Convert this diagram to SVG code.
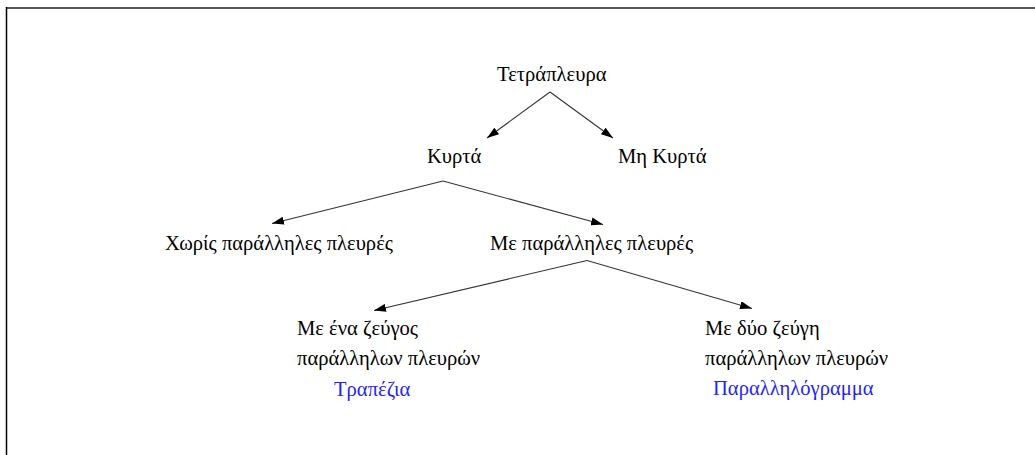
<svg xmlns="http://www.w3.org/2000/svg" width="1035" height="455" viewBox="0 0 1035 455">
  <style>
    .t { font-family: "Liberation Serif", "Times New Roman", serif; font-size: 20.6px; fill: #000; }
    .b { fill: #1f1fff; }
    .c { stroke: #333; stroke-width: 1.1; fill: none; marker-end: url(#ah); }
  </style>
  <defs>
    <marker id="ah" viewBox="0 0 12 8" refX="12" refY="4" markerWidth="12" markerHeight="8" markerUnits="userSpaceOnUse" orient="auto">
      <path d="M0,0 L12,4 L0,8 Z" fill="#000"/>
    </marker>
  </defs>
  <rect width="1035" height="455" fill="#fff"/>
  <g id="frame">
    <line x1="6" y1="8" x2="1035" y2="8" stroke="#555" stroke-width="2"/>
    <line x1="6.5" y1="7" x2="6.5" y2="455" stroke="#000" stroke-width="1.5"/>
  </g>
  <g id="connectors">
    <line class="c" x1="550" y1="92" x2="487" y2="138"/>
    <line class="c" x1="550" y1="92" x2="613" y2="138"/>
    <line class="c" x1="443" y1="181" x2="272" y2="223.5"/>
    <line class="c" x1="443" y1="181" x2="603" y2="224.5"/>
    <line class="c" x1="587" y1="260.5" x2="374" y2="310.5"/>
    <line class="c" x1="587" y1="260.5" x2="752" y2="308.5"/>
  </g>
  <g id="n-tetraplevra"><text class="t" x="497" y="81">Τετράπλευρα</text></g>
  <g id="n-kyrta"><text class="t" x="427" y="163">Κυρτά</text></g>
  <g id="n-mi-kyrta"><text class="t" x="618" y="163">Μη Κυρτά</text></g>
  <g id="n-choris"><text class="t" x="165" y="249.5">Χωρίς παράλληλες πλευρές</text></g>
  <g id="n-me-parallhles"><text class="t" x="490" y="249.5">Με παράλληλες πλευρές</text></g>
  <g id="n-ena-zeygos">
    <text class="t" x="297" y="334.5">Με ένα ζεύγος</text>
    <text class="t" x="297" y="364.5">παράλληλων πλευρών</text>
    <text class="t b" x="334" y="396">Τραπέζια</text>
  </g>
  <g id="n-dyo-zeygi">
    <text class="t" x="705" y="334.5">Με δύο ζεύγη</text>
    <text class="t" x="705" y="364.5">παράλληλων πλευρών</text>
    <text class="t b" x="713" y="395">Παραλληλόγραμμα</text>
  </g>
</svg>
